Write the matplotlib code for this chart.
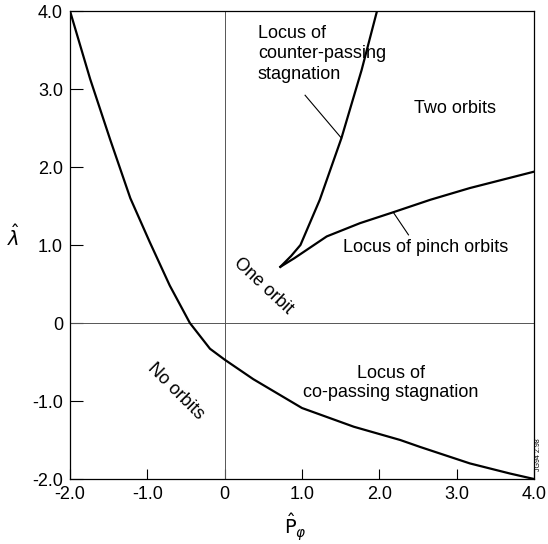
import matplotlib.pyplot as plt

plt.rcParams['font.family'] = ['Liberation Sans', 'DejaVu Sans']

# locus of co-passing stagnation
p_co = [-2.0, -1.74, -1.48, -1.22, -0.97, -0.71, -0.45, -0.19, 0.0, 0.37, 1.0, 1.67, 2.27, 2.53, 3.17, 3.69, 4.0]
lam_co = [4.0, 3.13, 2.35, 1.60, 1.04, 0.48, 0.0, -0.33, -0.47, -0.72, -1.09, -1.33, -1.50, -1.59, -1.80, -1.93, -2.0]

# locus of counter-passing stagnation
p_ctr = [0.72, 0.86, 0.98, 1.23, 1.51, 1.77, 1.97]
lam_ctr = [0.72, 0.86, 1.0, 1.58, 2.37, 3.24, 4.0]

# locus of pinch orbits
p_pinch = [0.72, 0.90, 1.32, 1.75, 2.18, 2.66, 3.17, 4.0]
lam_pinch = [0.72, 0.83, 1.11, 1.28, 1.42, 1.58, 1.73, 1.94]

ticks = [-2.0, -1.0, 0.0, 1.0, 2.0, 3.0, 4.0]
tick_labels = ['-2.0', '-1.0', '0', '1.0', '2.0', '3.0', '4.0']
ytick_labels = ['-2.0', '-1.0', '0', '1.0', '2.0', '3.0', '4.0']

fig = plt.figure(figsize=(5.48, 5.44), dpi=100)
ax = fig.add_axes([70/548, 1-479/544, 464/548, 468/544])

ax.axhline(0, color='#555555', lw=0.7)
ax.axvline(0, color='#555555', lw=0.7)

ax.plot(p_co, lam_co, color='black', lw=1.6)
ax.plot(p_ctr, lam_ctr, color='black', lw=1.6)
ax.plot(p_pinch, lam_pinch, color='black', lw=1.6)

ax.set_xlim(-2, 4)
ax.set_ylim(-2, 4)
ax.set_xticks(ticks)
ax.set_xticklabels(tick_labels)
ax.set_yticks(ticks)
ax.set_yticklabels(ytick_labels)
ax.tick_params(direction='in', length=9, width=0.8, labelsize=13, pad=5)
ax.tick_params(axis='x', length=7)
for s in ax.spines.values():
    s.set_linewidth(0.9)

fs = 13
ax.text(0.43, 3.45, 'Locus of\ncounter-passing\nstagnation', fontsize=fs,
        ha='left', va='center', linespacing=1.3)
ax.plot([1.04, 1.51], [2.92, 2.37], color='black', lw=0.8)
ax.text(2.98, 2.75, 'Two orbits', fontsize=fs, ha='center', va='center')
ax.text(2.6, 0.97, 'Locus of pinch orbits', fontsize=fs, ha='center', va='center')
ax.plot([2.18, 2.377], [1.42, 1.13], color='black', lw=0.8)
ax.text(0.5, 0.47, 'One orbit', fontsize=fs, ha='center', va='center', rotation=-43)
ax.text(-0.63, -0.88, 'No orbits', fontsize=fs, ha='center', va='center', rotation=-45)
ax.text(2.15, -0.77, 'Locus of\nco-passing stagnation', fontsize=fs,
        ha='center', va='center', linespacing=1.12)

fig.text(13/548, 1-237/544, r'$\hat{\lambda}$', fontsize=14, ha='center', va='center')
fig.text(295/548, 1-527/544, r'$\hat{\mathrm{P}}_{\varphi}$', fontsize=14, ha='center', va='center')
fig.text(539/548, 1-455/544, 'JG94 2.98', fontsize=5, rotation=90, ha='center', va='center')

fig.savefig('out.png', dpi=100)
